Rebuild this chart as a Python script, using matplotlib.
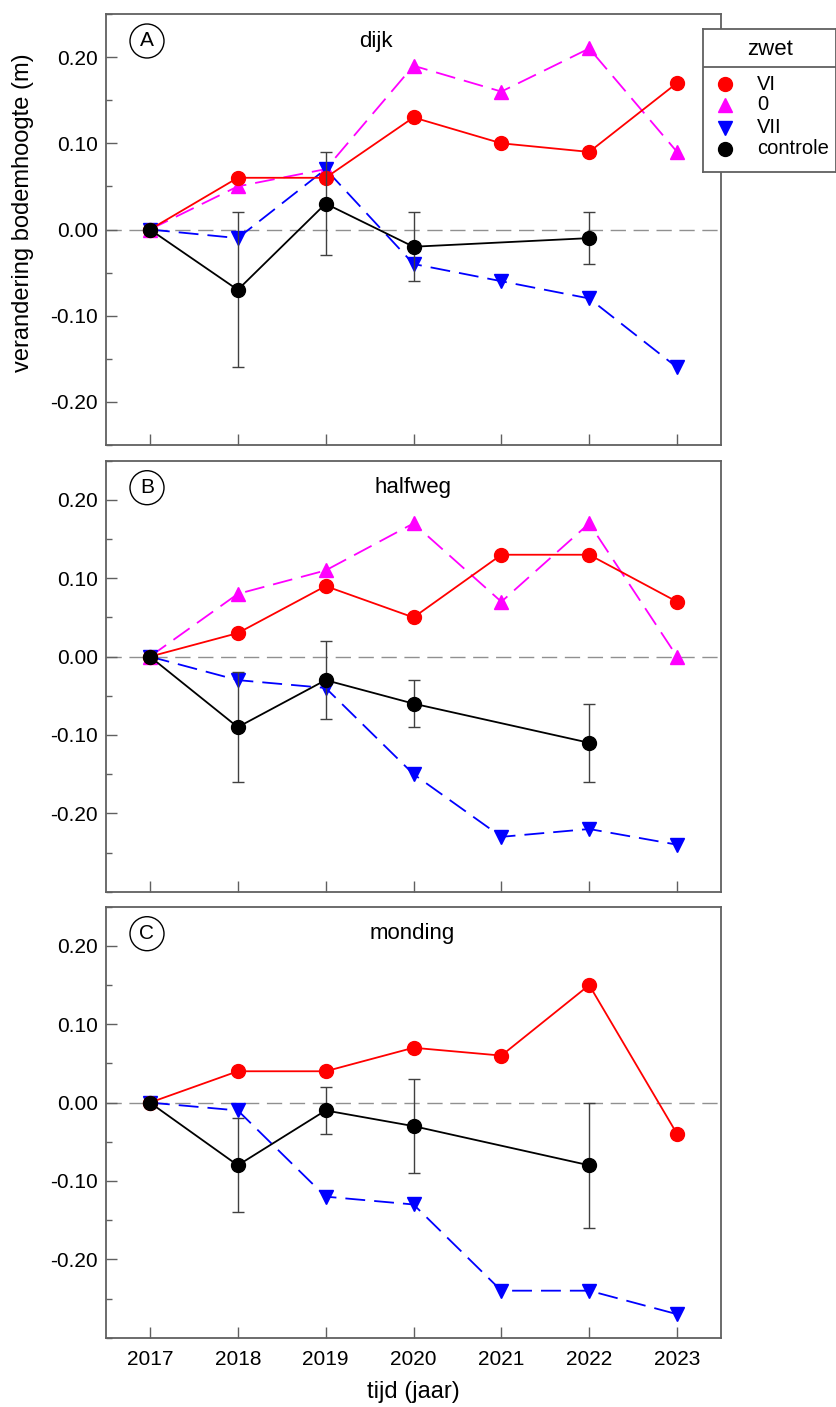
import matplotlib
matplotlib.use("Agg")
import matplotlib.pyplot as plt
import numpy as np
from matplotlib.ticker import MultipleLocator, FixedLocator

plt.rcParams['font.family'] = ['Liberation Sans', 'DejaVu Sans']

years = [2017, 2018, 2019, 2020, 2021, 2022, 2023]
ctrl_years = [2017, 2018, 2019, 2020, 2022]

# Panel A - dijk
A_VI = [0.00, 0.06, 0.06, 0.13, 0.10, 0.09, 0.17]
A_0 = [0.00, 0.05, 0.07, 0.19, 0.16, 0.21, 0.09]
A_VII = [0.00, -0.01, 0.07, -0.04, -0.06, -0.08, -0.16]
A_ctrl = [0.00, -0.07, 0.03, -0.02, -0.01]
A_ctrl_err = [0.0, 0.09, 0.06, 0.04, 0.03]

# Panel B - halfweg
B_VI = [0.00, 0.03, 0.09, 0.05, 0.13, 0.13, 0.07]
B_0 = [0.00, 0.08, 0.11, 0.17, 0.07, 0.17, 0.00]
B_VII = [0.00, -0.03, -0.04, -0.15, -0.23, -0.22, -0.24]
B_ctrl = [0.00, -0.09, -0.03, -0.06, -0.11]
B_ctrl_err = [0.0, 0.07, 0.05, 0.03, 0.05]

# Panel C - monding
C_VI = [0.00, 0.04, 0.04, 0.07, 0.06, 0.15, -0.04]
C_VII = [0.00, -0.01, -0.12, -0.13, -0.24, -0.24, -0.27]
C_ctrl = [0.00, -0.08, -0.01, -0.03, -0.08]
C_ctrl_err = [0.0, 0.06, 0.03, 0.06, 0.08]

panel_letters = ['A', 'B', 'C']
panel_titles = ['dijk', 'halfweg', 'monding']
ytick_vals = [-0.20, -0.10, 0.00, 0.10, 0.20]
ytick_labels = ['-0.20', '-0.10', '0.00', '0.10', '0.20']
legend_labels = ['VI', '0', 'VII', 'controle']

panels = [
    dict(VI=A_VI, Z=A_0, VII=A_VII, ctrl=A_ctrl, err=A_ctrl_err, ylim=(-0.25, 0.25)),
    dict(VI=B_VI, Z=B_0, VII=B_VII, ctrl=B_ctrl, err=B_ctrl_err, ylim=(-0.30, 0.25)),
    dict(VI=C_VI, Z=None, VII=C_VII, ctrl=C_ctrl, err=C_ctrl_err, ylim=(-0.30, 0.25)),
]

W, H = 836, 1407
fig = plt.figure(figsize=(W / 100, H / 100), dpi=100)

left = 106 / W
width = (721 - 106) / W
tops = [14, 460.7, 906.7]
ph = 431

spine_col = '#606060'
red = '#ff0000'
mag = '#ff00ff'
blue = '#0000ff'
dash = (0, (11, 5))

for i, p in enumerate(panels):
    top = tops[i]
    ax = fig.add_axes([left, 1 - (top + ph) / H, width, ph / H])
    ax.axhline(0, color='#909090', lw=1.0, ls=(0, (11, 5.5)), zorder=1)
    ax.plot(years, p['VI'], color=red, lw=1.3, marker='o', ms=10, zorder=4)
    if p['Z'] is not None:
        ax.plot(years, p['Z'], color=mag, lw=1.3, ls=dash, marker='^', ms=9.5, zorder=3)
    ax.plot(years, p['VII'], color=blue, lw=1.3, ls=dash, marker='v', ms=9.5, zorder=3)
    ax.errorbar(ctrl_years, p['ctrl'], yerr=p['err'], color='black', lw=1.3,
                marker='o', ms=10, ecolor='#404040', elinewidth=1.0,
                capsize=4, capthick=1.0, zorder=5)
    ax.set_xlim(2016.5, 2023.5)
    ax.set_ylim(*p['ylim'])
    ax.set_xticks(years)
    ax.yaxis.set_major_locator(FixedLocator(ytick_vals))
    ax.set_yticklabels(ytick_labels)
    ax.yaxis.set_minor_locator(MultipleLocator(0.05))
    ax.tick_params(axis='both', which='major', direction='in', length=8,
                   width=1.0, color=spine_col, labelsize=15, pad=6)
    ax.tick_params(axis='y', which='minor', direction='in', length=4.5,
                   width=1.0, color=spine_col)
    if i < 2:
        ax.tick_params(axis='x', labelbottom=False)
    else:
        ax.tick_params(axis='x', pad=9)
    for s in ax.spines.values():
        s.set_color(spine_col)
        s.set_linewidth(1.3)
    ax.text((147 - 106) / 615, 1 - 27 / ph, panel_letters[i], transform=ax.transAxes,
            ha='center', va='center', fontsize=15,
            bbox=dict(boxstyle='circle,pad=0.36', fc='white', ec='black', lw=1.0))
    cx = [376, 413, 412][i]
    ax.text((cx - 106) / 615, 1 - 27 / ph, panel_titles[i], transform=ax.transAxes,
            ha='center', va='center', fontsize=16)

fig.text(23 / W, 1 - 213 / H, 'verandering bodemhoogte (m)', rotation=90,
         ha='center', va='center', fontsize=17)
fig.text(413 / W, 1 - 1392 / H, 'tijd (jaar)', ha='center', va='center', fontsize=17)

# legend box
lax = fig.add_axes([703 / W, 1 - 172 / H, 133 / W, 143 / H])
lax.set_xlim(0, 1)
lax.set_ylim(0, 1)
lax.set_xticks([])
lax.set_yticks([])
for s in lax.spines.values():
    s.set_color(spine_col)
    s.set_linewidth(1.3)
lax.axhline(0.734, color=spine_col, lw=1.3)
lax.text(0.504, 0.86, 'zwet', ha='center', va='center', fontsize=16)
leg_styles = [('o', red, 10), ('^', mag, 9.5), ('v', blue, 9.5), ('o', 'black', 10)]
leg_y = [0.615, 0.469, 0.308, 0.161]
for (m, c, ms), lab, yy in zip(leg_styles, legend_labels, leg_y):
    lax.plot([0.165], [yy], marker=m, color=c, ms=ms, ls='none')
    lax.text(0.406, yy, lab, ha='left', va='center', fontsize=14.5)

fig.savefig('out.png', dpi=100)
